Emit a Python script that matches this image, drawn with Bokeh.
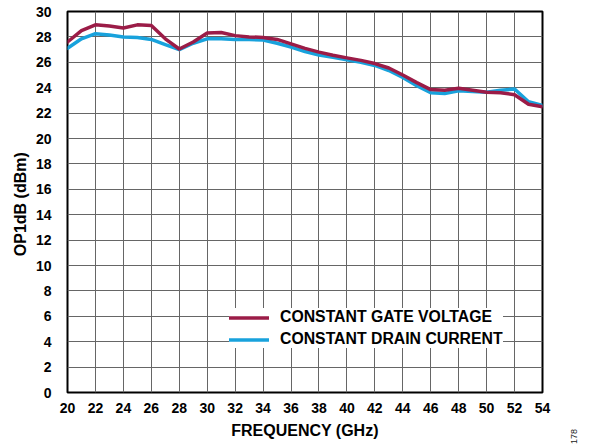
import math
from bokeh.plotting import figure
from bokeh.models import (ColumnDataSource, Legend, LegendItem, SingleIntervalTicker,
                          Range1d, Label)
from bokeh.embed import file_html
from bokeh.resources import INLINE

# ---- data ----
freq_ghz = [20, 21, 22, 23, 24, 25, 26, 27, 28, 29, 30, 31, 32, 33, 34, 35, 36, 37,
            38, 39, 40, 41, 42, 43, 44, 45, 46, 47, 48, 49, 50, 51, 52, 53, 54]
op1db_const_gate_voltage = [27.6, 28.5, 28.95, 28.85, 28.7, 28.95, 28.9, 27.85, 27.05,
                            27.6, 28.3, 28.35, 28.1, 28.0, 27.95, 27.8, 27.45, 27.1,
                            26.8, 26.55, 26.35, 26.15, 25.9, 25.55, 25.0, 24.4, 23.85,
                            23.8, 23.95, 23.8, 23.65, 23.6, 23.45, 22.7, 22.5]
op1db_const_drain_current = [27.1, 27.85, 28.25, 28.15, 28.0, 27.95, 27.8, 27.4, 27.0,
                             27.5, 27.85, 27.85, 27.8, 27.8, 27.75, 27.5, 27.2, 26.85,
                             26.58, 26.4, 26.2, 26.0, 25.75, 25.35, 24.8, 24.15, 23.6,
                             23.55, 23.75, 23.7, 23.65, 23.8, 23.9, 22.9, 22.6]
series_names = ["CONSTANT GATE VOLTAGE", "CONSTANT DRAIN CURRENT"]
x_label = "FREQUENCY (GHz)"
y_label = "OP1dB  (dBm)"
figure_id = "178"

RED = "#9B1C47"
BLUE = "#18A2DC"
FONT = "Liberation Sans"

src = ColumnDataSource(dict(f=freq_ghz, gv=op1db_const_gate_voltage,
                            dc=op1db_const_drain_current))

p = figure(width=591, height=446, output_backend="svg", toolbar_location=None,
           x_range=Range1d(20, 54), y_range=Range1d(0, 30),
           min_border_left=67, min_border_right=49, min_border_top=11,
           min_border_bottom=54)

p.outline_line_color = "black"
p.outline_line_width = 2
p.background_fill_color = "white"
p.border_fill_color = "white"

for ax, ttl in ((p.xaxis[0], x_label), (p.yaxis[0], y_label)):
    ax.ticker = SingleIntervalTicker(interval=2, num_minor_ticks=0)
    ax.axis_line_color = None
    ax.major_tick_line_color = None
    ax.minor_tick_line_color = None
    ax.major_label_text_font = FONT
    ax.major_label_text_font_style = "bold"
    ax.major_label_text_font_size = "14px"
    ax.major_label_text_color = "black"
    ax.axis_label = ttl
    ax.axis_label_text_font = FONT
    ax.axis_label_text_font_style = "bold"
    ax.axis_label_text_font_size = "16px"
    ax.axis_label_text_color = "black"

p.xaxis.major_label_standoff = 4
p.xaxis.axis_label_standoff = 6
p.yaxis.major_label_standoff = 10
p.yaxis.axis_label_standoff = 4

p.xgrid.ticker = SingleIntervalTicker(interval=2, num_minor_ticks=0)
p.ygrid.ticker = SingleIntervalTicker(interval=2, num_minor_ticks=0)
for g in (p.xgrid[0], p.ygrid[0]):
    g.grid_line_color = "#666666"
    g.grid_line_width = 1

r_dc = p.line("f", "dc", source=src, line_color=BLUE, line_width=3.5,
              line_join="round", line_cap="round")
r_gv = p.line("f", "gv", source=src, line_color=RED, line_width=3.5,
              line_join="round", line_cap="round")

legend = Legend(items=[LegendItem(label=series_names[0], renderers=[r_gv]),
                       LegendItem(label=series_names[1], renderers=[r_dc])],
                location=(162, 44))
legend.background_fill_color = "white"
legend.background_fill_alpha = 1
legend.border_line_color = None
legend.padding = 6
legend.margin = 0
legend.spacing = 4
legend.glyph_width = 40
legend.glyph_height = 17
legend.label_height = 17
legend.label_standoff = 11
legend.label_text_font = FONT
legend.label_text_font_style = "bold"
legend.label_text_font_size = "15.8px"
legend.label_text_color = "black"
legend.label_text_baseline = "middle"
p.add_layout(legend, "center")

# small figure number in the lower-right corner (outside the frame)
tag = Label(x=56.22, y=-3.46, text=figure_id,
            angle=math.pi / 2, text_font=FONT, text_font_size="9px",
            text_color="#222222", text_align="center", text_baseline="middle")
p.add_layout(tag, "right")

open("out.html", "w").write(file_html(p, INLINE))
